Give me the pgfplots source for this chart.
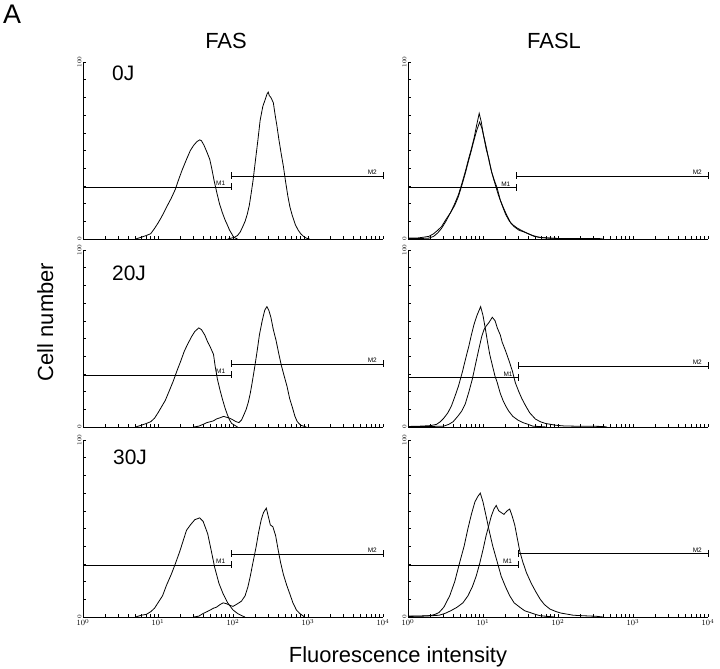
\documentclass[border=0pt]{standalone}
\usepackage{pgfplots}
\pgfplotsset{compat=1.18}
\usepackage{fontspec}
\setmainfont{Liberation Sans}

\pgfplotsset{
  fcspanel/.style={
    width=300bp, height=177bp, scale only axis,
    xmin=1, xmax=10000, ymin=0, ymax=100,
    axis lines*=left, axis line style={line width=0.7pt},
    tick align=inside, major tick length=3.5bp, minor tick length=3bp,
    xtick={1,10,100,1000,10000},
    minor xtick={2,3,4,5,6,7,8,9,20,30,40,50,60,70,80,90,200,300,400,500,600,700,800,900,2000,3000,4000,5000,6000,7000,8000,9000},
    ytick={0,100}, minor ytick={10,20,...,90},
    tick style={black, line width=0.6pt},
    yticklabel style={rotate=90, anchor=south, font=\fontsize{6.5}{7}\selectfont, inner sep=1.5bp},
    xticklabel style={font=\fontsize{8}{8}\selectfont, inner sep=2bp},
    clip=false, anchor=south west,
  },
  gate/.style={black, line width=0.6pt, mark=|, mark size=3.5bp},
  curve/.style={black, line width=0.8pt, mark=none},
}
\tikzset{glabel/.style={font=\fontsize{6.5}{6.5}\selectfont, anchor=south east, inner sep=1bp, xshift=-5bp}}

\begin{document}
\begin{tikzpicture}
\path[use as bounding box] (0,0) rectangle (720bp,-669bp);

% ---------- FAS 0J ----------
\begin{semilogxaxis}[fcspanel, at={(83bp,-239bp)}, xticklabels={}]
\addplot[curve] coordinates {(5,0)(6,1)(7,2)(8,3)(9,6)(10,9)(11,12)(12,15)(13,18)(15,23)(17,28)(19,34)(21,39)(24,45)(27,50)(30,53)(33,55)(36,56)(38,55.5)(41,53)(45,49)(49,45)(52,40)(56,33)(61,26)(66,20)(72,15)(78,11)(84,8)(90,5)(96,3)(102,1)(108,0.5)(115,0)};
\addplot[curve] coordinates {(85,0)(95,0.5)(105,1)(115,2)(125,4)(135,7)(145,10)(155,14)(165,19)(175,26)(185,33)(200,45)(215,56)(230,67)(250,75)(270,79)(285,82)(295,83)(305,81)(320,80)(345,77)(365,70)(385,64)(410,56)(440,48)(470,41)(500,33)(540,24)(575,18)(620,13)(680,8)(740,5)(800,3)(870,1.5)(950,0.5)(1050,0)};
\addplot[gate] coordinates {(1,29.4)(95,29.4)};
\addplot[gate] coordinates {(95,35.6)(10000,35.6)};
\node[glabel] at (axis cs:95,29.4) {M1};
\node[glabel] at (axis cs:10000,35.6) {M2};
\end{semilogxaxis}

% ---------- FASL 0J ----------
\begin{semilogxaxis}[fcspanel, at={(408bp,-239bp)}, xticklabels={}]
\addplot[curve] coordinates {(1,0.5)(1.3,0.5)(1.6,1)(1.9,1.5)(2.2,3)(2.5,5)(2.8,7)(3.2,11)(3.7,15)(4.2,20)(4.7,25)(5.2,31)(5.8,38)(6.4,45)(7,51)(7.6,57)(8.2,64)(8.9,71)(9.5,66)(10.2,58)(11,51)(12,45)(13,38)(14.2,33)(15.4,29)(17,22)(19,17)(21,13)(23.5,9)(26,7)(30,5)(35,4)(40,3)(46,2)(55,1)(65,0.7)(80,0.5)(100,0.3)(150,0.3)(250,0.3)(365,0.2)(400,0)};
\addplot[curve] coordinates {(1,0.3)(1.5,0.3)(1.9,0.5)(2.2,1.5)(2.5,3.5)(2.8,6)(3.2,10)(3.7,15)(4.2,19)(4.7,24)(5.2,30)(5.8,37)(6.4,44)(7,50)(7.6,56)(8.2,61)(9,66)(9.6,63)(10.4,57)(11.3,50)(12.2,43)(13.2,37)(14.5,31)(16,25)(18,19)(20,14)(22.5,10)(25,8)(29,6)(34,4.5)(40,3)(48,1.5)(60,0.8)(75,0.5)(100,0.3)(130,0)};
\addplot[gate] coordinates {(1,29)(28,29)};
\addplot[gate] coordinates {(28,35.6)(10000,35.6)};
\node[glabel] at (axis cs:28,29) {M1};
\node[glabel] at (axis cs:10000,35.6) {M2};
\end{semilogxaxis}

% ---------- FAS 20J ----------
\begin{semilogxaxis}[fcspanel, at={(83bp,-427bp)}, xticklabels={}]
\addplot[curve] coordinates {(5,0)(6,1)(7,2)(8,3)(9,5)(10,8)(11,11)(12.5,15)(14,20)(16,26)(18,32)(20,37)(22.5,43)(25,47)(28,51)(31,54)(35,56)(38,55)(42,52)(46,48)(50,45)(55,41)(58,34)(62,27)(67,21)(72,16)(78,11)(84,7)(90,4)(96,2)(105,1)(115,0)};
\addplot[curve] coordinates {(30,0)(35,0.5)(40,1.5)(45,2.5)(50,3)(55,3.5)(60,4.5)(65,5)(70,5.5)(75,6)(82,5.5)(90,5)(100,4)(110,3)(120,2.5)(130,4)(140,7)(150,10)(160,14)(170,19)(180,25)(195,34)(210,43)(225,52)(245,60)(265,66)(283,68)(300,66)(320,62)(345,55)(375,49)(405,42)(440,35)(480,29)(525,23)(570,16)(620,11)(670,6)(720,3)(800,1)(900,0.3)(950,0)};
\addplot[gate] coordinates {(1,29.4)(95,29.4)};
\addplot[gate] coordinates {(95,35.6)(10000,35.6)};
\node[glabel] at (axis cs:95,29.4) {M1};
\node[glabel] at (axis cs:10000,35.6) {M2};
\end{semilogxaxis}

% ---------- FASL 20J ----------
\begin{semilogxaxis}[fcspanel, at={(408bp,-427bp)}, xticklabels={}]
\addplot[curve] coordinates {(1,0.3)(1.5,0.5)(2,0.8)(2.4,1.5)(2.7,3)(3,5)(3.4,8)(3.8,12)(4.2,17)(4.7,23)(5.3,31)(5.9,39)(6.5,46)(7,52)(7.6,58)(8.3,63)(9.3,68)(10,63)(10.8,55)(11.5,48)(12.3,41)(13.3,35)(14.4,29)(15.5,25)(17,19)(18.5,15)(20,12)(22,9)(25,6)(29,4)(34,2.5)(40,1.5)(46,0.5)(55,0.3)(70,0)};
\addplot[curve] coordinates {(1,0.3)(2,0.3)(3,0.5)(3.5,1.5)(4,3)(4.6,6)(5.2,9)(5.8,13)(6.5,20)(7.2,27)(8,36)(8.8,44)(9.6,51)(10.3,55)(11,57)(12,59)(13.3,62)(14.5,60)(15.5,56)(17,52)(18,48)(20,43)(22,38)(24.5,32)(27,25)(30,20)(33,16)(37,12)(42,8)(50,4.5)(58,3)(68,2)(80,1.5)(93,1)(120,0.6)(200,0.4)(300,0.4)(400,0.3)(450,0)};
\addplot[gate] coordinates {(1,28)(30,28)};
\addplot[gate] coordinates {(30,34.5)(10000,34.5)};
\node[glabel] at (axis cs:30,28) {M1};
\node[glabel] at (axis cs:10000,34.5) {M2};
\end{semilogxaxis}

% ---------- FAS 30J ----------
\begin{semilogxaxis}[fcspanel, at={(83bp,-617bp)}]
\addplot[curve] coordinates {(5,0)(6,1)(7,1.5)(8,3)(9,5)(10,8)(11.5,12)(13,18)(15,24)(17,30)(19.5,37)(22,44)(24,49)(27,52)(31,55)(36,56)(40,54)(46,47)(51,38)(57,28)(65,19)(74,13)(85,8)(100,4)(115,2)(135,0.5)(145,0)};
\addplot[curve] coordinates {(30,0)(35,0.5)(40,2)(45,3)(50,4)(55,5)(60,5.5)(67,7)(74,8)(82,7.5)(92,6.5)(100,6)(110,7)(120,8)(130,9)(145,12)(158,17)(170,23)(185,31)(204,40)(220,48)(238,55)(255,59)(278,61.5)(295,57)(315,52)(340,51)(370,46)(400,38)(430,31)(470,24)(520,18)(573,13)(630,8)(700,4)(776,2)(850,0.8)(900,0)};
\addplot[gate] coordinates {(1,29.4)(95,29.4)};
\addplot[gate] coordinates {(95,35.6)(10000,35.6)};
\node[glabel] at (axis cs:95,29.4) {M1};
\node[glabel] at (axis cs:10000,35.6) {M2};
\end{semilogxaxis}

% ---------- FASL 30J ----------
\begin{semilogxaxis}[fcspanel, at={(408bp,-617bp)}]
\addplot[curve] coordinates {(1,0.5)(1.5,0.6)(2,0.8)(2.3,1.5)(2.6,2.6)(3,5.5)(3.6,12)(4.2,20)(4.9,31)(5.6,40)(6.3,50)(7,58)(7.8,65)(8.5,68)(9.2,70)(10,65)(11,57)(12.2,48)(13.5,40)(15.5,31)(17.5,23)(20,17)(22.7,12)(26,8)(31,5.5)(36,3.5)(42,2.6)(50,1.5)(57,0.8)(70,0.4)(90,0)};
\addplot[curve] coordinates {(1,0.3)(1.6,0.5)(2.2,0.8)(2.6,1)(3.1,2)(3.7,3.5)(4.5,5.5)(5.4,8)(6.3,12)(7.2,17)(8.1,23)(9,30)(10,38)(11,46)(12,52)(12.9,57)(14,61)(15,63)(16.2,60)(17.5,59)(19,58)(21,60)(22.7,61)(24.5,57)(26.5,52)(28.5,45)(31,37)(34,31)(38,25)(44,19)(51,14)(58,10)(66,7)(78,4.5)(95,3)(110,2.2)(129,1.7)(160,1)(220,0.7)(324,0.4)(400,0)};
\addplot[gate] coordinates {(1,29.4)(29.5,29.4)};
\addplot[gate] coordinates {(29.5,36)(10000,36)};
\node[glabel] at (axis cs:29.5,29.4) {M1};
\node[glabel] at (axis cs:10000,36) {M2};
\end{semilogxaxis}

% ---------- texts ----------
\node[anchor=base, inner sep=0, font=\fontsize{27}{27}\selectfont] at (12bp,-23bp) {A};
\node[anchor=base, inner sep=0, font=\fontsize{22}{22}\selectfont] at (226bp,-48bp) {FAS};
\node[anchor=base, inner sep=0, font=\fontsize{22}{22}\selectfont] at (554bp,-48bp) {FASL};
\node[anchor=base west, inner sep=0, font=\fontsize{21}{21}\selectfont] at (112bp,-80bp) {0J};
\node[anchor=base west, inner sep=0, font=\fontsize{21}{21}\selectfont] at (112bp,-280bp) {20J};
\node[anchor=base west, inner sep=0, font=\fontsize{21}{21}\selectfont] at (113bp,-464bp) {30J};
\node[anchor=base, rotate=90, inner sep=0, font=\fontsize{22}{22}\selectfont] at (53bp,-322bp) {Cell number};
\node[anchor=base, inner sep=0, font=\fontsize{22}{22}\selectfont] at (398bp,-662bp) {Fluorescence intensity};
\end{tikzpicture}
\end{document}
